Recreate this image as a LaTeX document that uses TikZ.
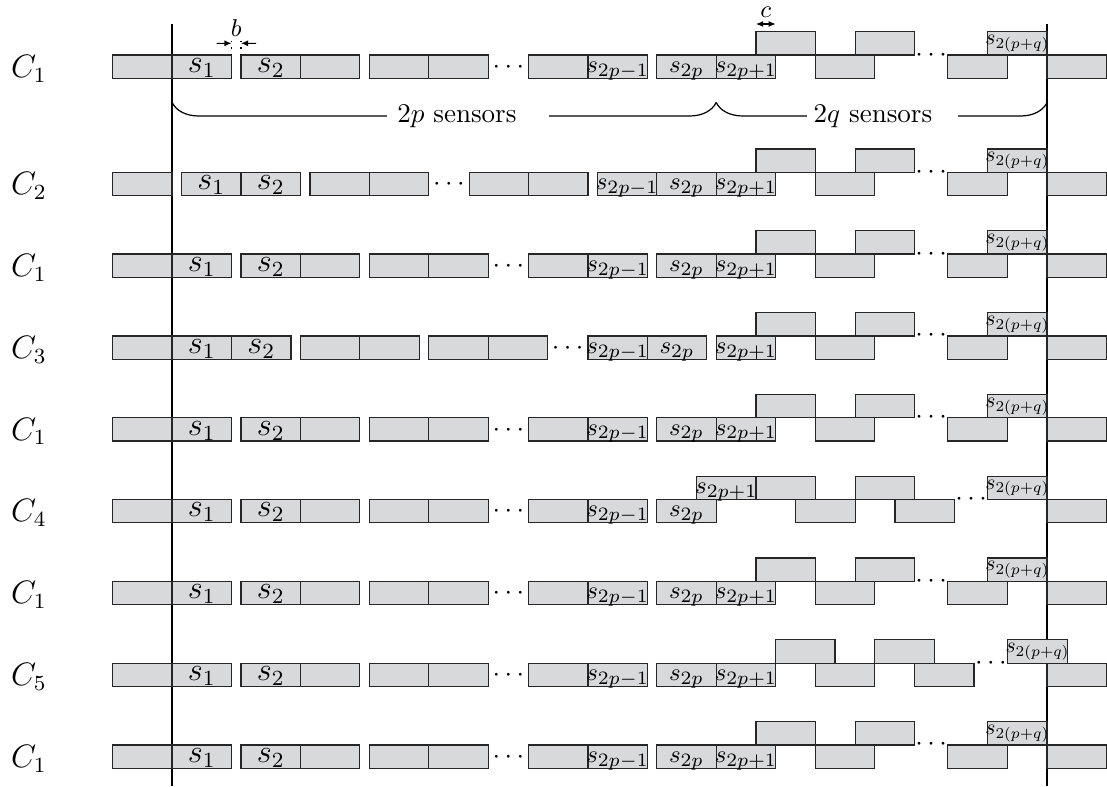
\documentclass[tikz,border=0pt]{standalone}
\usepackage{graphicx}
\usetikzlibrary{decorations.pathreplacing,arrows.meta,calc}
\definecolor{boxgray}{RGB}{216,217,219}
\tikzset{
  sensorbox/.style={draw=black!85, line width=0.45pt, fill=boxgray, anchor=north west,
    minimum width=21.978pt, minimum height=8.621pt, inner sep=0pt, outer sep=0pt,
    text height=5.8pt, text depth=1.5pt},
  lastlbl/.style={text height=3.5pt, text depth=2.6pt},
  dotsnode/.style={inner sep=0pt, anchor=base},
  clabel/.style={inner sep=0pt, anchor=base, font=\large},
  vline/.style={draw=black, line width=0.5pt},
  ann/.style={line width=0.4pt, -{Latex[length=2.6pt,width=2.2pt]}},
  annboth/.style={line width=0.4pt, {Latex[length=2.6pt,width=2.2pt]}-{Latex[length=2.6pt,width=2.2pt]}},
  bracetext/.style={fill=white, inner xsep=0pt, anchor=west, align=left},
  bracedeco/.style={decorate, decoration={brace, mirror, amplitude=10pt}, line width=0.45pt}
}
% label helpers (fixed width so that boxes keep their size)
\newcommand{\lbig}[1]{\makebox[0pt]{\large$#1$}}
\newcommand{\lmid}[1]{\makebox[0pt]{\fontsize{9.4}{11}\selectfont$#1$}}
\newcommand{\llast}[1]{\makebox[0pt]{\scalebox{0.8}{$#1$}}}
% #2 name, #3 left edge in box units, #4 top edge in pixels, #5 label
\newcommand{\sensor}[5][]{\node[sensorbox,#1] (#2) at ({112.7+59.4*(#3)},{#4}) {#5};}
\newcommand{\lowdots}[3]{\node[dotsnode] (#1) at ({112.7+59.4*(#2)},{#3+18.4}) {$\cdots$};}
\newcommand{\updots}[3]{\node[dotsnode] (#1) at ({112.7+59.4*(#2)},{#3+6}) {$\cdots$};}
% left part of rows C1, C4, C5
\newcommand{\leftA}[2]{%
  \sensor{#1-a}{0}{#2}{}
  \sensor{#1-s1}{1}{#2}{\lbig{s_1}}
  \sensor{#1-s2}{2.16}{#2}{\lbig{s_2}}
  \sensor{#1-c}{3.16}{#2}{}
  \sensor{#1-d}{4.32}{#2}{}
  \sensor{#1-e}{5.32}{#2}{}
  \lowdots{#1-dl}{6.66}{#2}
  \sensor{#1-f}{7}{#2}{}
  \sensor{#1-g}{8}{#2}{\lmid{s_{2p-1}}}
  \sensor{#1-h}{9.16}{#2}{\lmid{s_{2p}}}
}
% right part of rows C1, C2, C3
\newcommand{\rightA}[2]{%
  \sensor{#1-i}{10.16}{#2}{\lmid{s_{2p+1}}}
  \sensor{#1-u1}{10.83}{#2-23.3}{}
  \sensor{#1-l1}{11.83}{#2}{}
  \sensor{#1-u2}{12.50}{#2-23.3}{}
  \updots{#1-du}{13.78}{#2}
  \sensor{#1-l2}{14.06}{#2}{}
  \sensor[lastlbl]{#1-u3}{14.73}{#2-23.3}{\llast{s_{2(p+q)}}}
  \sensor{#1-r}{15.73}{#2}{}
}
\begin{document}
\begin{tikzpicture}[x=0.37pt,y=-0.37pt]
\useasboundingbox (0,0) rectangle (1107,786);
% vertical lines
\coordinate (LT) at (172.1,24); \coordinate (LB) at (172.1,786);
\coordinate (RT) at (1047.1,24); \coordinate (RB) at (1047.1,786);
\draw[vline] (LT) -- (LB);
\draw[vline] (RT) -- (RB);

% Row 1: C1
\leftA{A}{55}\rightA{A}{55}
\node[clabel] (A-lab) at (29,77.3) {$C_1$};

% Row 2: C2
\sensor{B-a}{0}{172.3}{}
\sensor{B-s1}{1.16}{172.3}{\lbig{s_1}}
\sensor{B-s2}{2.16}{172.3}{\lbig{s_2}}
\sensor{B-c}{3.32}{172.3}{}
\sensor{B-d}{4.32}{172.3}{}
\lowdots{B-dl}{5.66}{172.3}
\sensor{B-e}{6}{172.3}{}
\sensor{B-f}{7}{172.3}{}
\sensor{B-g}{8.16}{172.3}{\lmid{s_{2p-1}}}
\sensor{B-h}{9.16}{172.3}{\lmid{s_{2p}}}
\rightA{B}{172.3}
\node[clabel] (B-lab) at (29,194.6) {$C_2$};

% Row 3: C1
\leftA{D}{254.1}\rightA{D}{254.1}
\node[clabel] (D-lab) at (29,276.4) {$C_1$};

% Row 4: C3
\sensor{E-a}{0}{335.9}{}
\sensor{E-s1}{1}{335.9}{\lbig{s_1}}
\sensor{E-s2}{2}{335.9}{\lbig{s_2}}
\sensor{E-c}{3.16}{335.9}{}
\sensor{E-d}{4.16}{335.9}{}
\sensor{E-e}{5.32}{335.9}{}
\sensor{E-f}{6.32}{335.9}{}
\lowdots{E-dl}{7.66}{335.9}
\sensor{E-g}{8}{335.9}{\lmid{s_{2p-1}}}
\sensor{E-h}{9}{335.9}{\lmid{s_{2p}}}
\rightA{E}{335.9}
\node[clabel] (E-lab) at (29,358.2) {$C_3$};

% Row 5: C1
\leftA{F}{417.7}\rightA{F}{417.7}
\node[clabel] (F-lab) at (29,440) {$C_1$};

% Row 6: C4
\leftA{G}{499.5}
\sensor{G-i}{9.83}{499.5-23.3}{\lmid{s_{2p+1}}}
\sensor{G-u1}{10.83}{499.5-23.3}{}
\sensor{G-l1}{11.50}{499.5}{}
\sensor{G-u2}{12.50}{499.5-23.3}{}
\sensor{G-l2}{13.17}{499.5}{}
\updots{G-du}{14.45}{499.5}
\sensor[lastlbl]{G-u3}{14.73}{499.5-23.3}{\llast{s_{2(p+q)}}}
\sensor{G-r}{15.73}{499.5}{}
\node[clabel] (G-lab) at (29,521.8) {$C_4$};

% Row 7: C1
\leftA{H}{581.3}\rightA{H}{581.3}
\node[clabel] (H-lab) at (29,603.6) {$C_1$};

% Row 8: C5
\leftA{K}{663.1}
\sensor{K-i}{10.16}{663.1}{\lmid{s_{2p+1}}}
\sensor{K-u1}{11.16}{663.1-23.3}{}
\sensor{K-l1}{11.83}{663.1}{}
\sensor{K-u2}{12.83}{663.1-23.3}{}
\sensor{K-l2}{13.50}{663.1}{}
\updots{K-du}{14.785}{663.1}
\sensor[lastlbl]{K-u3}{15.07}{663.1-23.3}{\llast{s_{2(p+q)}}}
\sensor{K-r}{15.73}{663.1}{}
\node[clabel] (K-lab) at (29,685.4) {$C_5$};

% Row 9: C1
\leftA{M}{744.9}\rightA{M}{744.9}
\node[clabel] (M-lab) at (29,767.2) {$C_1$};

% b annotation
\draw[dotted, line width=0.4pt] (A-s1.north east) -- ++(0,-19);
\draw[dotted, line width=0.4pt] (A-s2.north west) -- ++(0,-19);
\coordinate (bA) at (216.7,43.3);
\coordinate (bB) at ($(A-s1.north east)+(0,-11.7)$);
\coordinate (bC) at (256.0,43.3);
\coordinate (bD) at ($(A-s2.north west)+(0,-11.7)$);
\draw[ann] (bA) -- (bB);
\draw[ann] (bC) -- (bD);
\node[inner sep=0pt, font=\small] (blab) at (236.3,28) {$b$};

% c annotation
\coordinate (cA) at ($(A-u1.north west)+(0,-7.7)$);
\coordinate (cB) at ($(A-i.north east)+(0,-31)$);
\draw[annboth] (cA) -- (cB);
\node[inner sep=0pt, font=\small] (clab) at (765.8,12.5) {$c$};

% braces
\coordinate (brL) at (172.1,102.5);
\coordinate (brM) at (716.2,102.5);
\coordinate (brR) at (1047.1,102.5);
\draw[bracedeco] (brL) -- (brM);
\draw[bracedeco] (brM) -- (brR);
\node[bracetext, text width=59.7pt] (tp) at (386.7,116) {\hspace*{3.7pt}$2p$ sensors};
\node[bracetext, text width=55.9pt] (tq) at (806,116) {\hspace*{2.6pt}$2q$ sensors};
\end{tikzpicture}
\end{document}
